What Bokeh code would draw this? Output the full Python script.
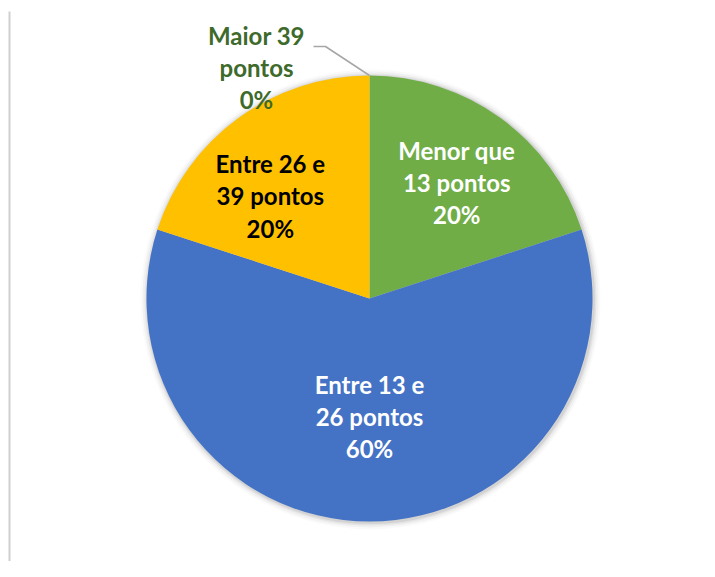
import math
from bokeh.plotting import figure
from bokeh.models import Range1d
from bokeh.core.properties import value
from bokeh.embed import file_html
from bokeh.resources import INLINE

# ---- data ----
categories = ["Menor que\n13 pontos", "Entre 13 e\n26 pontos", "Entre 26 e\n39 pontos", "Maior 39\npontos"]
shares = [20, 60, 20, 0]
colors = ["#70AD47", "#4472C4", "#FFC000", "#70AD47"]
label_colors = ["#FFFFFF", "#FFFFFF", "#000000", "#3E6A2B"]

# ---- layout (data x = page x, data y = 577 - page y) ----
W, H = 699, 561
CX, CY, R = 369, 577 - 298, 223
label_r = [0.65, 0.53, 0.64, None]
label_dang = [-1.0, 0.0, 8.0, 0.0]  # degrees, counter-clockwise tweak
FONT = "24px"
LH = 1.11

p = figure(width=W, height=H, output_backend="svg", toolbar_location=None,
           x_range=Range1d(0, W), y_range=Range1d(577 - H, 577),
           min_border=0, background_fill_color="white", border_fill_color="white")
p.axis.visible = False
p.grid.visible = False
p.outline_line_color = None

# left thin gray rule
p.line([9, 9], [566, 0], line_color="#D0D0D0", line_width=2)

# soft shadow
for k, a in [(7, 0.02), (5, 0.035), (3, 0.05), (1.5, 0.07)]:
    p.circle(x=[CX + 1], y=[CY - 1], radius=R + k, fill_color="#000000", fill_alpha=a, line_color=None)

total = sum(shares)
cum = 0.0
for cat, s, c, lc, lr, da in zip(categories, shares, colors, label_colors, label_r, label_dang):
    a0 = math.pi / 2 - 2 * math.pi * cum / total
    a1 = math.pi / 2 - 2 * math.pi * (cum + s) / total
    if s > 0:
        p.wedge(x=[CX], y=[CY], radius=R, start_angle=a1, end_angle=a0,
                direction="anticlock", fill_color=c, line_color=None)
    pct = f"{round(100 * s / total)}%"
    txt = f"{cat}\n{pct}"
    if s > 0:
        mid = (a0 + a1) / 2 + math.radians(da)
        tx = CX + lr * R * math.cos(mid)
        ty = CY + lr * R * math.sin(mid)
    else:
        ex = CX + R * math.cos(a0)
        ey = CY + R * math.sin(a0)
        elbow = (ex - 44, ey + 29)
        p.line([elbow[0] - 12, elbow[0], ex], [elbow[1], elbow[1], ey], line_color="#A6A6A6", line_width=1.5)
        tx, ty = elbow[0] - 69, elbow[1] - 21
    p.text(x=[tx], y=[ty], text=[txt], text_align="center", text_baseline="middle",
           text_font=value("Lato"), text_font_style="bold", text_font_size=FONT,
           text_line_height=LH, text_color=lc)
    cum += s

open("out.html", "w").write(file_html(p, INLINE))
